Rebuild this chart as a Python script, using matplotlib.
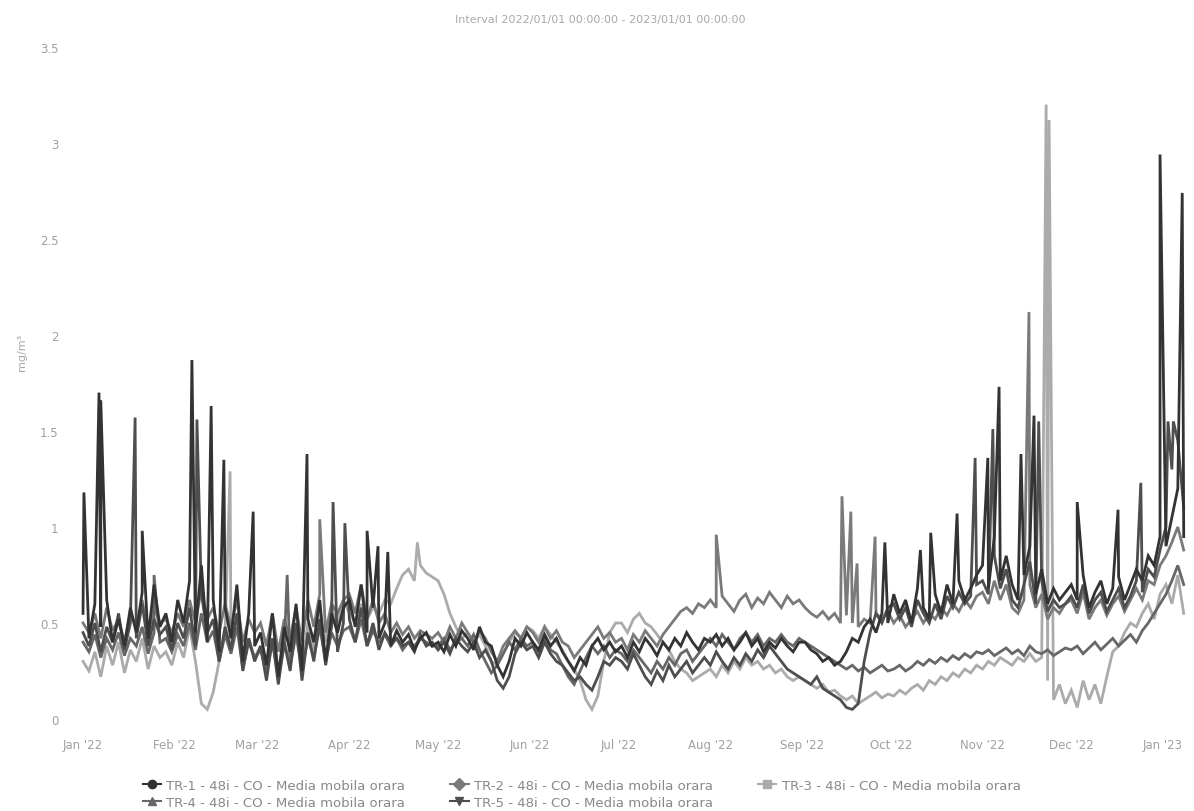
import numpy as np
import matplotlib
matplotlib.use("Agg")
import matplotlib.pyplot as plt
import matplotlib.dates as mdates
from matplotlib.lines import Line2D
import datetime as dt

title = "Interval 2022/01/01 00:00:00 - 2023/01/01 00:00:00"
y_label = "mg/m³"
series_names = [
    "TR-1 - 48i - CO - Media mobila orara",
    "TR-2 - 48i - CO - Media mobila orara",
    "TR-3 - 48i - CO - Media mobila orara",
    "TR-4 - 48i - CO - Media mobila orara",
    "TR-5 - 48i - CO - Media mobila orara",
]

# values sampled every 2 days starting 2022-01-01 (Jan..Dec, early Jan '23)
tr1_vals = [
    0.55, 0.42, 0.60, 0.48, 0.62, 0.40, 0.52, 0.38, 0.58, 0.45, 0.66, 0.42, 0.70, 0.48, 0.55, 0.40,
    0.62, 0.50, 0.72, 0.45, 0.80, 0.40, 0.62, 0.35, 0.58, 0.42, 0.70, 0.30, 0.55, 0.38,
    0.45, 0.28, 0.55, 0.22, 0.48, 0.35, 0.60, 0.25, 0.52, 0.40, 0.62, 0.30, 0.55, 0.45, 0.58,
    0.62, 0.48, 0.70, 0.45, 0.58, 0.42, 0.50, 0.38, 0.46, 0.40, 0.44, 0.36, 0.42, 0.45, 0.38,
    0.40, 0.35, 0.44, 0.38, 0.46, 0.42, 0.36, 0.48, 0.40, 0.38, 0.28, 0.22, 0.30, 0.42, 0.38, 0.45,
    0.40, 0.36, 0.44, 0.38, 0.42, 0.35, 0.30, 0.25, 0.32, 0.28, 0.38, 0.42, 0.36, 0.40, 0.35,
    0.38, 0.32, 0.40, 0.35, 0.42, 0.38, 0.33, 0.40, 0.36, 0.42, 0.38, 0.45, 0.40, 0.36, 0.42,
    0.40, 0.44, 0.38, 0.42, 0.36, 0.40, 0.45, 0.38, 0.42, 0.35, 0.40, 0.37, 0.42, 0.38, 0.35, 0.40,
    0.40, 0.36, 0.34, 0.30, 0.32, 0.28, 0.30, 0.35, 0.42, 0.40, 0.48, 0.52, 0.45, 0.55, 0.50,
    0.65, 0.55, 0.62, 0.50, 0.68, 0.58, 0.52, 0.65, 0.55, 0.70, 0.60, 0.72, 0.62, 0.68, 0.75,
    0.80, 0.68, 0.95, 0.72, 0.85, 0.70, 0.62, 0.75, 0.90, 0.65, 0.78, 0.60, 0.68, 0.62, 0.66,
    0.70, 0.62, 0.75, 0.58, 0.66, 0.72, 0.60, 0.68, 0.74, 0.62, 0.70, 0.78, 0.72, 0.85, 0.80, 0.95,
    0.90, 1.05, 1.20, 0.95,
]
tr2_vals = [
    0.50, 0.45, 0.55, 0.42, 0.58, 0.46, 0.52, 0.40, 0.55, 0.48, 0.62, 0.44, 0.58, 0.50, 0.52, 0.45,
    0.55, 0.48, 0.62, 0.50, 0.68, 0.52, 0.58, 0.45, 0.60, 0.48, 0.62, 0.40, 0.52, 0.45,
    0.50, 0.38, 0.55, 0.35, 0.52, 0.42, 0.58, 0.40, 0.62, 0.48, 0.65, 0.45, 0.60, 0.55, 0.62,
    0.65, 0.55, 0.70, 0.52, 0.62, 0.50, 0.55, 0.45, 0.50, 0.44, 0.48, 0.42, 0.46, 0.44, 0.42,
    0.45, 0.40, 0.48, 0.42, 0.50, 0.45, 0.40, 0.46, 0.42, 0.35, 0.30, 0.38, 0.42, 0.46, 0.42, 0.48,
    0.45, 0.40, 0.48, 0.42, 0.46, 0.40, 0.38, 0.32, 0.36, 0.40, 0.44, 0.48, 0.42, 0.45, 0.40,
    0.42, 0.36, 0.44, 0.40, 0.46, 0.42, 0.38, 0.44, 0.48, 0.52, 0.56, 0.58, 0.55, 0.60, 0.58,
    0.62, 0.58, 0.64, 0.60, 0.56, 0.62, 0.65, 0.58, 0.63, 0.60, 0.66, 0.62, 0.58, 0.64, 0.60, 0.62,
    0.58, 0.55, 0.53, 0.56, 0.52, 0.55, 0.50, 0.54, 0.50, 0.48, 0.52, 0.50, 0.55, 0.52, 0.56,
    0.50, 0.54, 0.48, 0.52, 0.56, 0.50, 0.55, 0.52, 0.58, 0.54, 0.60, 0.56, 0.62, 0.58, 0.64,
    0.66, 0.60, 0.72, 0.62, 0.70, 0.58, 0.55, 0.62, 0.70, 0.58, 0.65, 0.52, 0.58, 0.55, 0.60,
    0.62, 0.55, 0.66, 0.52, 0.58, 0.62, 0.54, 0.60, 0.64, 0.56, 0.62, 0.68, 0.62, 0.72, 0.70, 0.80,
    0.85, 0.92, 1.00, 0.88,
]
tr3_vals = [
    0.30, 0.25, 0.35, 0.22, 0.38, 0.28, 0.40, 0.24, 0.36, 0.30, 0.42, 0.26, 0.38, 0.32, 0.35, 0.28,
    0.40, 0.32, 0.48, 0.30, 0.08, 0.05, 0.14, 0.30, 0.45, 0.35, 0.55, 0.30, 0.42, 0.32,
    0.38, 0.26, 0.42, 0.25, 0.40, 0.30, 0.48, 0.28, 0.50, 0.36, 0.55, 0.40, 0.58, 0.50, 0.62,
    0.55, 0.50, 0.60, 0.52, 0.58, 0.55, 0.62, 0.60, 0.68, 0.75, 0.78, 0.72, 0.80, 0.76, 0.74,
    0.72, 0.65, 0.55, 0.48, 0.42, 0.45, 0.40, 0.44, 0.38, 0.30, 0.28, 0.34, 0.40, 0.45, 0.42, 0.48,
    0.46, 0.42, 0.48, 0.44, 0.40, 0.36, 0.30, 0.26, 0.20, 0.10, 0.05, 0.12, 0.30, 0.45, 0.50,
    0.50, 0.45, 0.52, 0.55, 0.50, 0.48, 0.44, 0.40, 0.36, 0.30, 0.26, 0.24, 0.20, 0.22, 0.24,
    0.26, 0.22, 0.28, 0.24, 0.30, 0.26, 0.32, 0.28, 0.30, 0.26, 0.28, 0.24, 0.26, 0.22, 0.20, 0.22,
    0.20, 0.18, 0.16, 0.18, 0.14, 0.15, 0.12, 0.10, 0.12, 0.08, 0.10, 0.12, 0.14, 0.11, 0.13,
    0.12, 0.15, 0.13, 0.16, 0.18, 0.15, 0.20, 0.18, 0.22, 0.20, 0.24, 0.22, 0.26, 0.24, 0.28,
    0.26, 0.30, 0.28, 0.32, 0.30, 0.28, 0.32, 0.30, 0.34, 0.30, 0.32, 0.20, 0.10, 0.18, 0.08,
    0.15, 0.06, 0.20, 0.10, 0.18, 0.08, 0.22, 0.35, 0.38, 0.45, 0.50, 0.48, 0.55, 0.60, 0.52, 0.65,
    0.70, 0.60, 0.75, 0.55,
]
tr4_vals = [
    0.40, 0.35, 0.44, 0.32, 0.42, 0.36, 0.45, 0.33, 0.42, 0.38, 0.48, 0.34, 0.45, 0.40, 0.42, 0.35,
    0.44, 0.38, 0.50, 0.36, 0.55, 0.40, 0.46, 0.30, 0.44, 0.34, 0.48, 0.26, 0.40, 0.32,
    0.36, 0.24, 0.40, 0.22, 0.38, 0.28, 0.44, 0.25, 0.42, 0.32, 0.48, 0.30, 0.45, 0.38, 0.46,
    0.48, 0.40, 0.52, 0.38, 0.46, 0.40, 0.44, 0.38, 0.42, 0.36, 0.40, 0.38, 0.42, 0.40, 0.38,
    0.38, 0.42, 0.36, 0.40, 0.42, 0.38, 0.44, 0.36, 0.30, 0.24, 0.28, 0.34, 0.40, 0.36, 0.42, 0.38,
    0.40, 0.35, 0.42, 0.36, 0.34, 0.28, 0.22, 0.18, 0.25, 0.32, 0.38, 0.34, 0.38, 0.32, 0.36,
    0.34, 0.30, 0.36, 0.32, 0.28, 0.24, 0.30, 0.26, 0.32, 0.28, 0.34, 0.36, 0.30, 0.34, 0.38,
    0.42, 0.38, 0.44, 0.40, 0.36, 0.42, 0.45, 0.40, 0.44, 0.38, 0.42, 0.40, 0.44, 0.40, 0.38, 0.42,
    0.40, 0.38, 0.36, 0.34, 0.32, 0.30, 0.28, 0.26, 0.28, 0.25, 0.27, 0.24, 0.26, 0.28, 0.25,
    0.26, 0.28, 0.25, 0.27, 0.30, 0.28, 0.31, 0.29, 0.32, 0.30, 0.33, 0.31, 0.34, 0.32, 0.35,
    0.34, 0.36, 0.33, 0.35, 0.37, 0.34, 0.36, 0.33, 0.38, 0.35, 0.34, 0.36, 0.33, 0.35, 0.37,
    0.36, 0.38, 0.34, 0.37, 0.40, 0.36, 0.39, 0.42, 0.38, 0.41, 0.44, 0.40, 0.46, 0.50, 0.55, 0.60,
    0.65, 0.72, 0.80, 0.70,
]
tr5_vals = [
    0.45, 0.38, 0.50, 0.35, 0.48, 0.40, 0.55, 0.36, 0.50, 0.42, 0.60, 0.38, 0.52, 0.44, 0.48, 0.36,
    0.50, 0.42, 0.58, 0.38, 0.65, 0.45, 0.52, 0.30, 0.48, 0.36, 0.55, 0.25, 0.42, 0.30,
    0.38, 0.20, 0.42, 0.18, 0.40, 0.25, 0.50, 0.20, 0.45, 0.30, 0.52, 0.28, 0.48, 0.35, 0.50,
    0.52, 0.40, 0.58, 0.38, 0.50, 0.36, 0.45, 0.40, 0.42, 0.38, 0.40, 0.35, 0.44, 0.38, 0.40,
    0.36, 0.40, 0.34, 0.42, 0.38, 0.35, 0.40, 0.32, 0.36, 0.30, 0.20, 0.16, 0.22, 0.34, 0.40, 0.36,
    0.38, 0.32, 0.40, 0.34, 0.30, 0.28, 0.24, 0.20, 0.22, 0.18, 0.15, 0.22, 0.30, 0.28, 0.32,
    0.30, 0.26, 0.34, 0.28, 0.22, 0.18, 0.25, 0.20, 0.28, 0.22, 0.26, 0.30, 0.24, 0.28, 0.32,
    0.28, 0.35, 0.30, 0.26, 0.32, 0.28, 0.34, 0.30, 0.36, 0.32, 0.38, 0.34, 0.30, 0.26, 0.24, 0.22,
    0.20, 0.18, 0.22, 0.16, 0.14, 0.12, 0.10, 0.06, 0.05, 0.08, 0.30, 0.45, 0.55, 0.50, 0.58,
    0.60, 0.52, 0.58, 0.48, 0.62, 0.55, 0.50, 0.60, 0.52, 0.64, 0.58, 0.66, 0.60, 0.64, 0.70,
    0.72, 0.65, 0.85, 0.68, 0.78, 0.62, 0.58, 0.70, 0.82, 0.60, 0.72, 0.56, 0.62, 0.58, 0.60,
    0.64, 0.58, 0.70, 0.55, 0.62, 0.66, 0.56, 0.62, 0.68, 0.58, 0.64, 0.72, 0.66, 0.78, 0.74, 0.88,
    1.00, 1.30, 1.45, 1.10,
]

# short-lived peaks (day offset from 2022-01-01, value)
tr1_spike_days = [0.3, 5.4, 6.0, 20.0, 36.8, 43.3, 47.6, 57.5, 75.7, 96.0, 99.7, 103.0,
                  271.0, 283.0, 286.5, 295.4, 305.8, 309.6, 317.0, 321.4, 336.0, 349.8, 364.0, 371.5]
tr1_spike_vals = [1.18, 1.70, 1.66, 0.98, 1.87, 1.63, 1.35, 1.08, 1.38, 0.98, 0.90, 0.87,
                  0.92, 0.88, 0.97, 1.07, 1.36, 1.73, 1.38, 1.58, 1.13, 1.09, 2.94, 2.74]
tr2_spike_days = [80.0, 214.0, 256.5, 259.5, 261.6, 267.7, 319.7]
tr2_spike_vals = [1.04, 0.96, 1.16, 1.08, 0.81, 0.95, 2.12]
tr3_spike_days = [49.7, 113.0, 325.5, 326.5]
tr3_spike_vals = [1.29, 0.92, 3.20, 3.12]
tr4_spike_days = [24.0, 69.0]
tr4_spike_vals = [0.75, 0.75]
tr5_spike_days = [17.6, 38.5, 84.5, 88.5, 301.5, 307.5, 323.0, 357.5, 366.7, 368.5]
tr5_spike_vals = [1.57, 1.56, 1.13, 1.02, 1.36, 1.51, 1.55, 1.23, 1.55, 1.55]

colors = ["#333333", "#7a7a7a", "#ababab", "#676767", "#4e4e4e"]
markers = ["o", "D", "s", "^", "v"]
zorders = [6, 3, 2, 4, 5]
widths = [2.0, 2.0, 2.0, 2.0, 2.0]

base_num = mdates.date2num(dt.datetime(2022, 1, 1))

fig = plt.figure(figsize=(11.94, 8.12), dpi=100)
fig.patch.set_facecolor("white")
ax = fig.add_axes([78 / 1194, 92 / 812, 1114 / 1194, 672 / 812])

all_vals = [tr1_vals, tr2_vals, tr3_vals, tr4_vals, tr5_vals]
all_sd = [tr1_spike_days, tr2_spike_days, tr3_spike_days, tr4_spike_days, tr5_spike_days]
all_sv = [tr1_spike_vals, tr2_spike_vals, tr3_spike_vals, tr4_spike_vals, tr5_spike_vals]

handles = []
for i in range(5):
    v = np.asarray(all_vals[i], dtype=float)
    d = np.arange(len(v)) * 2.0
    dd = np.concatenate([d, np.asarray(all_sd[i], dtype=float)])
    vv = np.concatenate([v, np.asarray(all_sv[i], dtype=float)])
    order = np.argsort(dd, kind="stable")
    ax.plot(base_num + dd[order], vv[order], color=colors[i], lw=widths[i],
            zorder=zorders[i], solid_joinstyle="miter")
    handles.append(Line2D([], [], color=colors[i], lw=1.5, marker=markers[i],
                          markersize=6))

ax.set_xlim(base_num - 1.7, base_num + 374.8)
ax.set_ylim(0, 3.5)
ax.set_yticks([0, 0.5, 1, 1.5, 2, 2.5, 3, 3.5])
ax.set_yticklabels(["0", "0.5", "1", "1.5", "2", "2.5", "3", "3.5"])
ax.xaxis.set_major_locator(mdates.MonthLocator())
ax.xaxis.set_major_formatter(mdates.DateFormatter("%b '%y"))
ax.tick_params(axis="both", length=0, labelsize=8.5, labelcolor="#a0a0a0")
ax.tick_params(axis="x", pad=14)
ax.tick_params(axis="y", pad=14)
for s in ax.spines.values():
    s.set_visible(False)

fig.text(600 / 1194, 1 - 20 / 812, title, ha="center", va="center",
         fontsize=8, color="#a8a8a8")
fig.text(22 / 1194, 1 - 352 / 812, y_label, ha="center", va="center",
         rotation=90, fontsize=8, color="#a8a8a8")

order_leg = [0, 3, 1, 4, 2]
fig.legend([handles[k] for k in order_leg], [series_names[k] for k in order_leg],
           ncol=3, loc="upper left", bbox_to_anchor=(136 / 1194, 1 - 773 / 812),
           frameon=False, fontsize=9.5, labelcolor="#888888", handlelength=1.4,
           handletextpad=0.4, columnspacing=3.4, labelspacing=0.3, borderpad=0)

fig.savefig("out.png", dpi=100, facecolor="white")
